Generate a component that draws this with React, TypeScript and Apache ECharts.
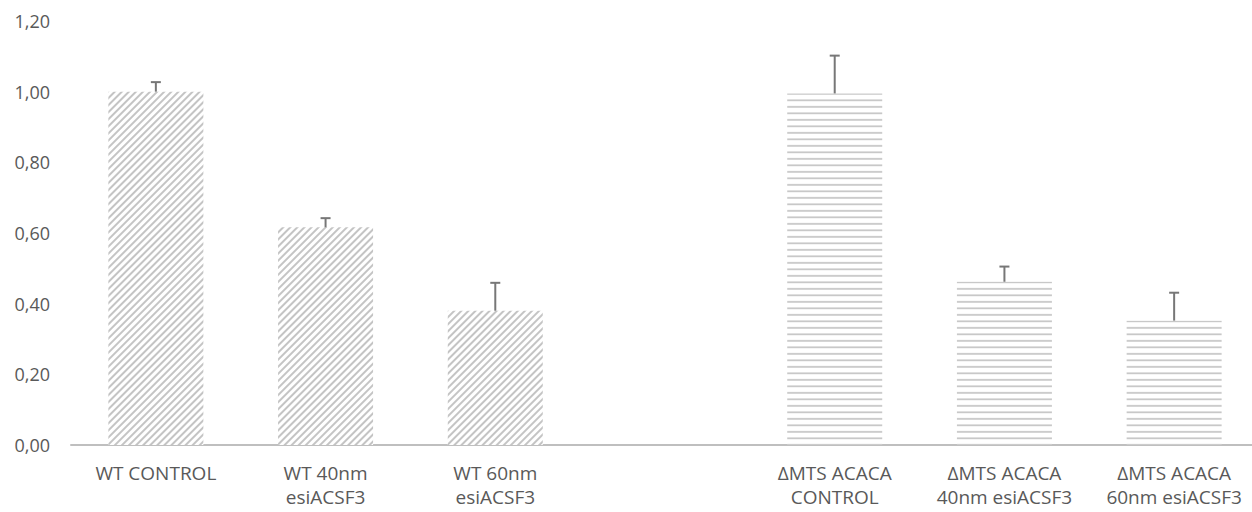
import React, { useEffect, useRef } from "react";
import * as echarts from "echarts";

const categories = [
  "WT CONTROL",
  "WT 40nm\nesiACSF3",
  "WT 60nm\nesiACSF3",
  "",
  "ΔMTS ACACA\nCONTROL",
  "ΔMTS ACACA\n40nm esiACSF3",
  "ΔMTS ACACA\n60nm esiACSF3",
];
const values: (number | null)[] = [1.0, 0.616, 0.38, null, 0.995, 0.462, 0.352];
const errors: (number | null)[] = [0.027, 0.026, 0.079, null, 0.107, 0.043, 0.079];
const groups = ["WT", "WT", "WT", "", "MTS", "MTS", "MTS"];
const yTicks = { min: 0, max: 1.2, interval: 0.2 };

const TEXT = "#595959";
const FONT = "'Open Sans', sans-serif";

const diagDecal = {
  symbol: "rect",
  symbolSize: 1,
  symbolKeepAspect: false,
  color: "#c4c4c4",
  backgroundColor: "#ffffff",
  dashArrayX: [[10, 0]],
  dashArrayY: [1.9, 2.2],
  rotation: -Math.PI / 4,
};

const horizSvg =
  '<svg xmlns="http://www.w3.org/2000/svg" width="10" height="6.5" viewBox="0 0 10 6.5">' +
  '<rect x="0" y="0" width="10" height="6.5" fill="#ffffff"/>' +
  '<rect x="0" y="2.0" width="10" height="1.7" fill="#c6c6c6"/></svg>';
const horizPattern = {
  image: "data:image/svg+xml;charset=utf-8," + encodeURIComponent(horizSvg),
  repeat: "repeat",
  imageWidth: 10,
  imageHeight: 6.5,
};

export default function App() {
  const ref = useRef<HTMLDivElement>(null);
  useEffect(() => {
    if (!ref.current) return;
    const chart = echarts.init(ref.current, undefined, { renderer: "svg" });
    const barData = values.map((v, i) =>
      v === null
        ? null
        : groups[i] === "WT"
        ? { value: v, itemStyle: { color: "#ffffff", decal: diagDecal } }
        : { value: v, itemStyle: { color: horizPattern } }
    );
    const errData = values
      .map((v, i) => (v === null ? null : [i, v, errors[i]]))
      .filter((d) => d !== null);
    chart.setOption({
      animation: false,
      grid: { left: 71, top: 21, width: 1188, height: 424 },
      xAxis: {
        type: "category",
        data: categories,
        axisLine: { show: true, lineStyle: { color: "#bfbfbf", width: 2 } },
        axisTick: { show: false },
        axisLabel: {
          interval: 0,
          color: TEXT,
          fontFamily: FONT,
          fontSize: 19,
          lineHeight: 24,
          margin: 16,
          hideOverlap: false,
        },
      },
      yAxis: {
        type: "value",
        min: yTicks.min,
        max: yTicks.max,
        interval: yTicks.interval,
        axisLine: { show: false },
        axisTick: { show: false },
        splitLine: { show: false },
        axisLabel: {
          color: TEXT,
          fontFamily: FONT,
          fontSize: 18,
          margin: 21,
          formatter: (v: number) => v.toFixed(2).replace(".", ","),
        },
      },
      series: [
        {
          type: "bar",
          data: barData,
          barWidth: 95,
        },
        {
          type: "custom",
          data: errData,
          z: 5,
          renderItem: (params: any, api: any) => {
            const x = api.value(0);
            const v = api.value(1);
            const e = api.value(2);
            const p0 = api.coord([x, v]);
            const p1 = api.coord([x, v + e]);
            const style = { stroke: "#777777", lineWidth: 2 };
            return {
              type: "group",
              children: [
                {
                  type: "line",
                  shape: { x1: p0[0], y1: p0[1], x2: p1[0], y2: p1[1] },
                  style,
                },
                {
                  type: "line",
                  shape: { x1: p1[0] - 5, y1: p1[1], x2: p1[0] + 5, y2: p1[1] },
                  style,
                },
              ],
            };
          },
        },
      ],
    });
    return () => chart.dispose();
  }, []);
  return (
    <div
      ref={ref}
      style={{ position: "fixed", left: 0, top: 0, width: 1260, height: 512, background: "#fff" }}
    />
  );
}
